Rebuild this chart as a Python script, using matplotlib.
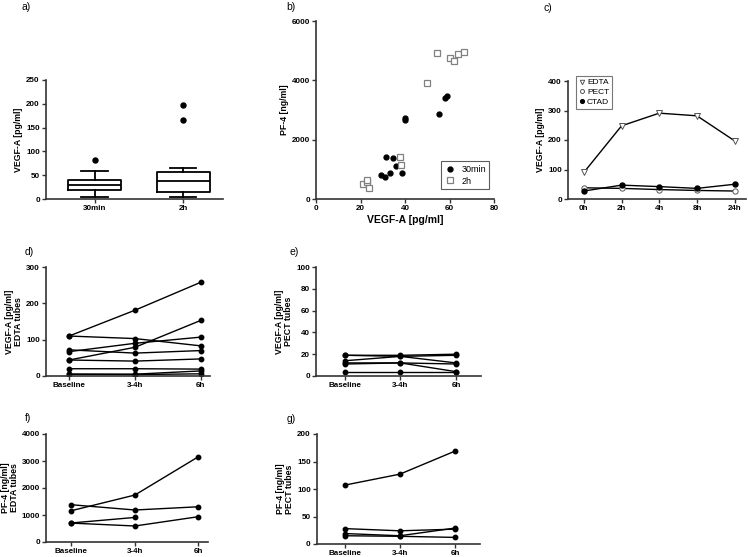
import numpy as np
import matplotlib.pyplot as plt

plt.rcParams['font.family'] = ['Liberation Sans', 'DejaVu Sans']

# a) boxplot summary values, VEGF-A [pg/ml]
box_labels = ['30min', '2h']
box_whislo = [5, 5]
box_q1 = [18, 15]
box_med = [30, 38]
box_q3 = [40, 57]
box_whishi = [59, 66]
box_fliers = [[81], [166, 198]]

# b) VEGF-A vs PF-4
vegf_30 = [31.5, 34.5, 35.8, 29.1, 31.0, 33.4, 38.7, 40.0, 40.0, 55.4, 57.8, 58.8]
pf4_30 = [1430, 1385, 1126, 822, 755, 890, 890, 2740, 2670, 2880, 3420, 3470]
vegf_2h = [21.3, 22.8, 23.1, 23.7, 37.6, 38.2, 50.0, 54.2, 60.3, 62.2, 64.0, 66.3]
pf4_2h = [495, 585, 630, 380, 1430, 1160, 3900, 4920, 4740, 4650, 4900, 4940]

# c) time course by tube type
c_times = ['0h', '2h', '4h', '8h', '24h']
c_edta = [90, 248, 291, 282, 197]
c_pect = [38, 36, 32, 29, 27]
c_ctad = [27, 47, 42, 36, 50]

# d)-g) paired samples
pair_labels = ['Baseline', '3-4h', '6h']
d_edta_vegf = [[110, 181, 258], [110, 103, 83], [44, 79, 153], [67, 90, 107],
               [72, 63, 70], [44, 41, 47], [20, 20, 19], [5, 5, 14], [5, 4, 6]]
e_pect_vegf = [[19, 19, 20], [19, 18, 19], [14, 18, 12], [12, 12, 4],
               [11, 12, 11], [4, 4, 4]]
f_edta_pf4 = [[1380, 1185, 1305], [1160, 1740, 3160], [705, 910, None], [700, 593, 938]]
g_pect_pf4 = [[107, 127, 169], [28, 24, 27], [19, 15, 29], [15, 14, 12]]

W, H = 748, 557
fig = plt.figure(figsize=(W / 100, H / 100), dpi=100)


def add_ax(l, r, t, b):
    return fig.add_axes([l / W, 1 - b / H, (r - l) / W, (b - t) / H])


def style(ax):
    for s in ['top', 'right']:
        ax.spines[s].set_visible(False)
    for s in ['left', 'bottom']:
        ax.spines[s].set_linewidth(1.2)
        ax.spines[s].set_color('#333333')
    ax.tick_params(direction='out', length=3, width=1.0, color='#333333',
                   labelsize=5.8, pad=1.5)
    for lab in ax.get_xticklabels() + ax.get_yticklabels():
        lab.set_fontweight('bold')


def ylab(ax, text):
    ax.set_ylabel(text, fontsize=6.3, fontweight='bold', labelpad=2, linespacing=1.0)


def panel_label(x, y, text):
    fig.text(x / W, 1 - y / H, text, fontsize=7.5, va='center', ha='left')


# a)
ax = add_ax(46, 223, 80, 199)
stats = []
for i in range(2):
    stats.append(dict(label=box_labels[i], whislo=box_whislo[i], q1=box_q1[i], med=box_med[i],
                      q3=box_q3[i], whishi=box_whishi[i], fliers=box_fliers[i]))
ax.bxp(stats, positions=[1, 2], widths=0.6,
       boxprops=dict(color='black', linewidth=1.3),
       medianprops=dict(color='black', linewidth=1.3),
       whiskerprops=dict(color='black', linewidth=1.3),
       capprops=dict(color='black', linewidth=1.3),
       flierprops=dict(marker='o', markerfacecolor='black', markeredgecolor='black', markersize=3.6))
ax.set_xlim(0.45, 2.45)
ax.set_ylim(0, 250)
ax.set_yticks(range(0, 251, 50))
style(ax)
ylab(ax, 'VEGF-A [pg/ml]')

# b)
ax = add_ax(316, 494, 21, 199)
ax.plot(vegf_30, pf4_30, 'o', color='black', markersize=3.5, label='30min')
ax.plot(vegf_2h, pf4_2h, 's', markerfacecolor='white', markeredgecolor='#808080',
        markersize=4.6, markeredgewidth=0.9, label='2h')
ax.set_xlim(0, 80)
ax.set_ylim(0, 6000)
ax.set_xticks(range(0, 81, 20))
ax.set_yticks(range(0, 6001, 2000))
style(ax)
ylab(ax, 'PF-4 [ng/ml]')
ax.set_xlabel('VEGF-A [pg/ml]', fontsize=7.5, fontweight='bold', labelpad=2)
leg = ax.legend(loc='lower right', fontsize=6.5, frameon=True, fancybox=False,
                edgecolor='#333333', borderpad=0.4, handletextpad=0.8, handlelength=1.0,
                labelspacing=0.3, bbox_to_anchor=(1.0, 0.03))
leg.get_frame().set_linewidth(0.8)

# c)
ax = add_ax(568, 746, 81, 199)
xc = np.arange(len(c_times))
ax.plot(xc, c_edta, '-v', color='black', markerfacecolor='white', markeredgecolor='#555555',
        markersize=4.3, linewidth=1.0, markeredgewidth=0.7, label='EDTA')
ax.plot(xc, c_pect, '-o', color='black', markerfacecolor='white', markeredgecolor='#555555',
        markersize=3.8, linewidth=1.0, markeredgewidth=0.7, label='PECT')
ax.plot(xc, c_ctad, '-o', color='black', markersize=3.6, linewidth=1.0, label='CTAD')
ax.set_xticks(xc)
ax.set_xticklabels(c_times)
ax.set_xlim(-0.42, 4.3)
ax.set_ylim(0, 400)
ax.set_yticks(range(0, 401, 100))
style(ax)
ylab(ax, 'VEGF-A [pg/ml]')
leg = ax.legend(loc='upper left', fontsize=6.0, frameon=True, fancybox=False,
                edgecolor='#555555', borderpad=0.35, handletextpad=0.2, handlelength=0.8,
                labelspacing=0.25, markerscale=0.75, bbox_to_anchor=(0.02, 1.08))
for h in leg.legend_handles:
    h.set_linestyle('')
leg.get_frame().set_linewidth(0.8)


def paired(ax, rows, ymax, step, label, xlim):
    xp = np.arange(len(pair_labels))
    for r in rows:
        xs = [x for x, v in zip(xp, r) if v is not None]
        vs = [v for v in r if v is not None]
        ax.plot(xs, vs, '-o', color='black', markersize=3.2, linewidth=1.0)
    ax.set_xticks(xp)
    ax.set_xticklabels(pair_labels)
    ax.set_xlim(*xlim)
    ax.set_ylim(0, ymax)
    ax.set_yticks(range(0, ymax + 1, step))
    style(ax)
    ylab(ax, label)


ax = add_ax(46, 210, 267, 376)
paired(ax, d_edta_vegf, 300, 100, 'VEGF-A [pg/ml]\nEDTA tubes', (-0.35, 2.14))
ax = add_ax(316, 481, 267, 376)
paired(ax, e_pect_vegf, 100, 20, 'VEGF-A [pg/ml]\nPECT tubes', (-0.52, 2.45))
ax = add_ax(46, 208, 434, 542)
paired(ax, f_edta_pf4, 4000, 1000, 'PF-4 [ng/ml]\nEDTA tubes', (-0.4, 2.15))
ax = add_ax(317, 480, 434, 544)
paired(ax, g_pect_pf4, 200, 50, 'PF-4 [ng/ml]\nPECT tubes', (-0.5, 2.45))

panel_label(22, 7, 'a)')
panel_label(286, 7, 'b)')
panel_label(544, 8, 'c)')
panel_label(25, 252, 'd)')
panel_label(289, 252, 'e)')
panel_label(25, 418, 'f)')
panel_label(287, 419, 'g)')

fig.savefig('out.png', dpi=100)
